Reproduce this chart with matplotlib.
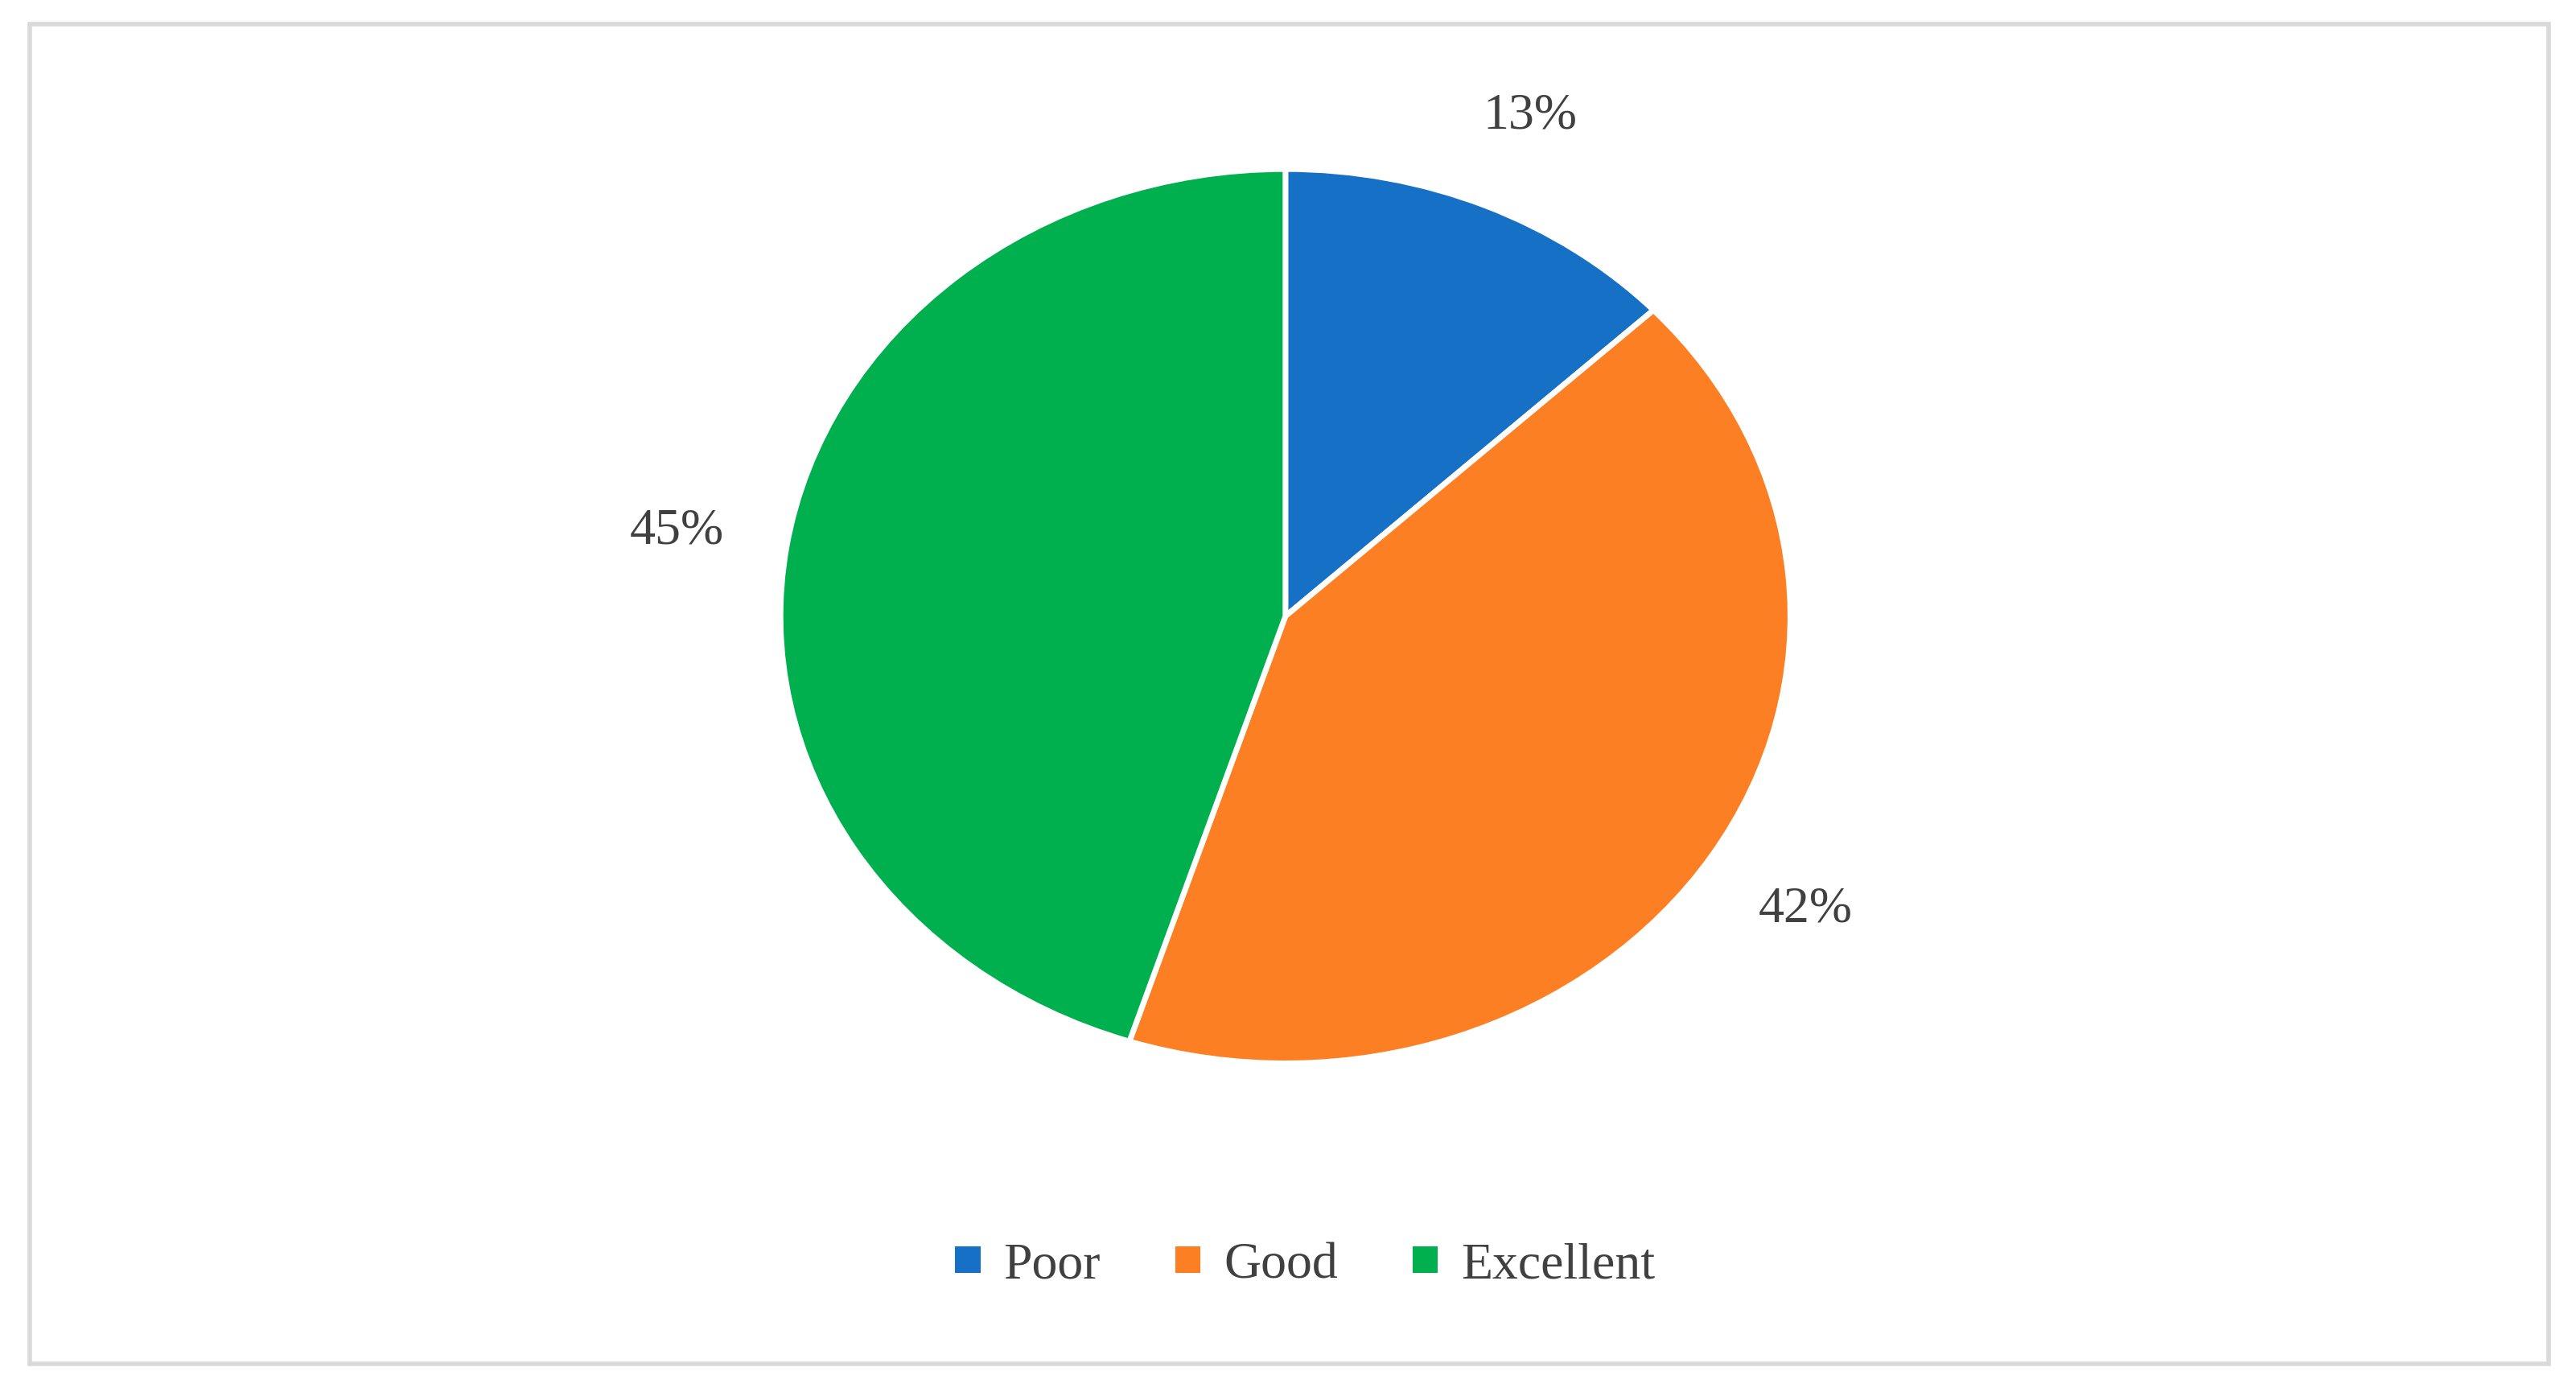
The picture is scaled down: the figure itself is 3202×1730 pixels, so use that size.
import matplotlib
matplotlib.use("Agg")
import matplotlib.pyplot as plt
from matplotlib.patches import Rectangle

categories = ["Poor", "Good", "Excellent"]
values = [13, 42, 45]
colors = ["#1570C6", "#FD7F23", "#00B04F"]

plt.rcParams['font.family'] = ['Liberation Serif', 'DejaVu Serif']
fig = plt.figure(figsize=(32.02, 17.31), dpi=100)
fig.patches.append(Rectangle((0.0115, 0.02), 0.978, 0.962, transform=fig.transFigure,
                             fill=False, edgecolor="#D9D9D9", linewidth=4))
ax = fig.add_axes([0.303, 0.236, 0.392, 0.642])
wedges, texts, autotexts = ax.pie(values, colors=colors, startangle=90, counterclock=False,
    autopct=lambda p: f"{p:.0f}%", pctdistance=1.22,
    wedgeprops=dict(edgecolor="white", linewidth=5),
    textprops=dict(fontsize=46, color="#404040"))
ax.set_aspect('auto')
ax.set_xlim(-1, 1); ax.set_ylim(-1, 1)
fig.legend(wedges, categories, loc="center", bbox_to_anchor=(0.506, 0.091), ncol=3,
           frameon=False, fontsize=46, handlelength=0.6, handleheight=0.6,
           handletextpad=0.4, columnspacing=1.4, labelcolor="#404040")
fig.savefig("out.png", dpi=100, facecolor="white")
